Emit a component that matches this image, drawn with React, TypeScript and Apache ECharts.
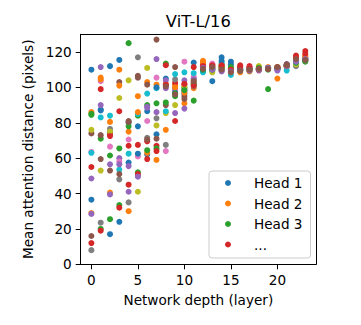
import React, { useEffect, useRef } from "react";
import * as echarts from "echarts";

const layers = [0, 1, 2, 3, 4, 5, 6, 7, 8, 9, 10, 11, 12, 13, 14, 15, 16, 17, 18, 19, 20, 21, 22, 23];
const xTicks = [0, 5, 10, 15, 20];
const yTicks = [0, 20, 40, 60, 80, 100, 120];
const headNames = ["Head 1", "Head 2", "Head 3", "...", "Head 5", "Head 6", "Head 7", "Head 8", "Head 9", "Head 10", "Head 11", "Head 12", "Head 13", "Head 14", "Head 15", "Head 16"];
const legendNames = ["Head 1", "Head 2", "Head 3", "..."];
const palette = ["#1f77b4", "#ff7f0e", "#2ca02c", "#d62728", "#9467bd", "#8c564b", "#e377c2", "#7f7f7f", "#bcbd22", "#17becf"];

const head1 = [110, 87, 112, 115.5, 57.5, 78, 86.5, 73.5, 105, 99.5, 96.5, 114, 109.5, 103.5, 117, 114.5, 110, 110.5, 110.5, 110.5, 110.5, 113, 114.5, 116];
const head2 = [86, 105.5, 80.5, 110, 75, 95, 103, 101.5, 102, 101, 91, 99.5, 115, 110, 111, 109, 109, 109, 111.5, 111.5, 105, 112, 116, 118];
const head3 = [85, 71, 61.5, 65.5, 125, 84, 90, 91, 113.5, 95, 100, 92.5, 109, 109.5, 113, 110, 110, 109.5, 110, 99, 111, 112.5, 113.5, 114.5];
const head4 = [55, 99, 73.5, 86.5, 67, 67.5, 69.5, 67, 112.5, 102.5, 101.5, 111.5, 113, 113, 111.5, 110.5, 112.5, 112, 110.5, 111, 111.5, 112, 118, 120.5];
const head5 = [48.5, 111.5, 56.5, 60, 55.5, 50, 89, 116, 104, 98.5, 104, 103, 112, 111, 109, 109.5, 110.5, 110, 109.5, 110.5, 109.5, 113, 115, 117];
const head6 = [74, 73, 74.5, 103, 81, 106.5, 101.5, 127, 90, 111.5, 95, 105, 111, 112, 110.5, 109.5, 110, 110.5, 110.5, 111, 111.5, 113, 115, 115];
const head7 = [63.5, 103.5, 66.5, 58, 70.5, 61, 81, 105.5, 64, 98, 114.5, 106, 111.5, 113.5, 112, 110, 111, 111, 110, 110.5, 111, 112, 114, 116];
const head8 = [8, 23.5, 76.5, 48, 35, 117, 71.5, 82.5, 67.5, 104.5, 99, 100.5, 110, 110.5, 110, 110, 110, 110, 110.5, 111, 111, 111.5, 112, 115];
const head9 = [76, 53, 75, 94, 104, 41, 111, 78.5, 85.5, 90, 100.5, 104, 110.5, 108.5, 110, 109, 109.5, 110, 112, 110.5, 111, 112, 113, 116.5];
const head10 = [63, 83, 84, 53.5, 62.5, 85, 96.5, 99.5, 86.5, 107.5, 108.5, 108, 108.5, 110.5, 114, 107, 109.5, 110, 110.5, 110.5, 110.5, 109.5, 114, 115.5];
const head11 = [36.5, 87.5, 17, 24, 80, 62.5, 62, 100, 101, 97, 98, 102, 110, 111, 115, 113, 111, 110.5, 110, 111, 111, 112.5, 115.5, 116.5];
const head12 = [29, 104.5, 40.5, 101, 30, 86, 63, 59, 76, 100, 97, 102.5, 114, 111.5, 112, 110.5, 108.5, 109.5, 110, 110.5, 111.5, 112, 116.5, 117.5];
const head13 = [84.5, 20, 25.5, 33.5, 78, 52, 64.5, 65.5, 91.5, 96.5, 98.5, 101.5, 110, 110, 111.5, 111.5, 109.5, 110, 111, 110, 110.5, 112, 114, 115];
const head14 = [12, 19, 72.5, 32, 45, 51, 59.5, 64, 101.5, 81, 102, 101, 112, 112.5, 112.5, 110, 111.5, 111, 110, 110.5, 111, 112.5, 117, 119];
const head15 = [28.5, 90, 39.5, 56.5, 41, 49.5, 88.5, 86, 99.5, 85.5, 88, 104.5, 111, 110, 109.5, 109, 109.5, 109.5, 110, 111, 110, 112, 114.5, 116];
const head16 = [16, 59.5, 53, 51, 80.5, 105.5, 70.5, 71, 100.5, 96, 93.5, 103.5, 110.5, 111.5, 110, 108.5, 109.5, 110, 110.5, 110.5, 111.5, 112.5, 116, 115.5];

const heads = [head1, head2, head3, head4, head5, head6, head7, head8, head9, head10, head11, head12, head13, head14, head15, head16];

const FONT = "DejaVu Sans";

export default function App() {
  const ref = useRef<HTMLDivElement>(null);
  useEffect(() => {
    if (!ref.current) return;
    const chart = echarts.init(ref.current, null, { renderer: "svg" });
    const series = heads.map((vals, i) => ({
      type: "scatter",
      name: headNames[i],
      data: vals.map((v, j) => [layers[j], v]),
      symbol: "circle",
      symbolSize: 6,
      itemStyle: { color: palette[i % 10], opacity: 1 },
      emphasis: { disabled: true },
    }));
    const frameAxis = {
      type: "value",
      axisLine: { show: true, lineStyle: { color: "#000", width: 1 } },
      axisTick: { show: false },
      axisLabel: { show: false },
      splitLine: { show: false },
    };
    chart.setOption({
      animation: false,
      textStyle: { fontFamily: FONT },
      grid: {
        left: 80.7,
        top: 34.3,
        right: 45,
        bottom: 60.7,
        outerBoundsMode: "none",
      },
      xAxis: [
        {
          type: "value",
          min: -1.15,
          max: 24.15,
          position: "bottom",
          name: "Network depth (layer)",
          nameLocation: "middle",
          nameGap: 29,
          nameTextStyle: { fontSize: 13.6, color: "#000", fontFamily: FONT },
          axisLine: { show: true, onZero: false, lineStyle: { color: "#000", width: 1 } },
          axisTick: { show: true, length: 5, lineStyle: { color: "#000", width: 1 }, customValues: xTicks },
          axisLabel: { fontSize: 13.6, color: "#000", margin: 8.5, fontFamily: FONT, customValues: xTicks },
          splitLine: { show: false },
        },
        { ...frameAxis, min: -1.15, max: 24.15, position: "top", axisLine: { ...frameAxis.axisLine, onZero: false } },
      ],
      yAxis: [
        {
          type: "value",
          min: 0,
          max: 130,
          position: "left",
          name: "Mean attention distance (pixels)",
          nameLocation: "middle",
          nameGap: 43,
          nameTextStyle: { fontSize: 13.6, color: "#000", fontFamily: FONT },
          axisLine: { show: true, onZero: false, lineStyle: { color: "#000", width: 1 } },
          axisTick: { show: true, length: 5, lineStyle: { color: "#000", width: 1 }, customValues: yTicks },
          axisLabel: { fontSize: 13.6, color: "#000", margin: 9, fontFamily: FONT, customValues: yTicks },
          splitLine: { show: false },
        },
        { ...frameAxis, min: 0, max: 130, position: "right", axisLine: { ...frameAxis.axisLine, onZero: false } },
      ],
      legend: {
        data: legendNames,
        orient: "vertical",
        left: 209,
        top: 171,
        padding: [5, 8, 6.5, 16],
        icon: "circle",
        itemWidth: 42,
        itemHeight: 6,
        itemGap: 6.5,
        selectedMode: false,
        backgroundColor: "rgba(255,255,255,0.8)",
        borderColor: "#cccccc",
        borderWidth: 1,
        borderRadius: 3,
        textStyle: { fontSize: 13.6, color: "#000", fontFamily: FONT, lineHeight: 14 },
      },
      graphic: [
        {
          type: "text",
          x: 198.3,
          y: 21,
          style: {
            text: "ViT-L/16",
            fontSize: 16.3,
            fontFamily: FONT,
            fill: "#000",
            textAlign: "center",
            textVerticalAlign: "middle",
          },
        },
      ],
      series,
    });
    return () => chart.dispose();
  }, []);
  return <div ref={ref} style={{ width: 361, height: 325, position: "absolute", left: 0, top: 0 }} />;
}
